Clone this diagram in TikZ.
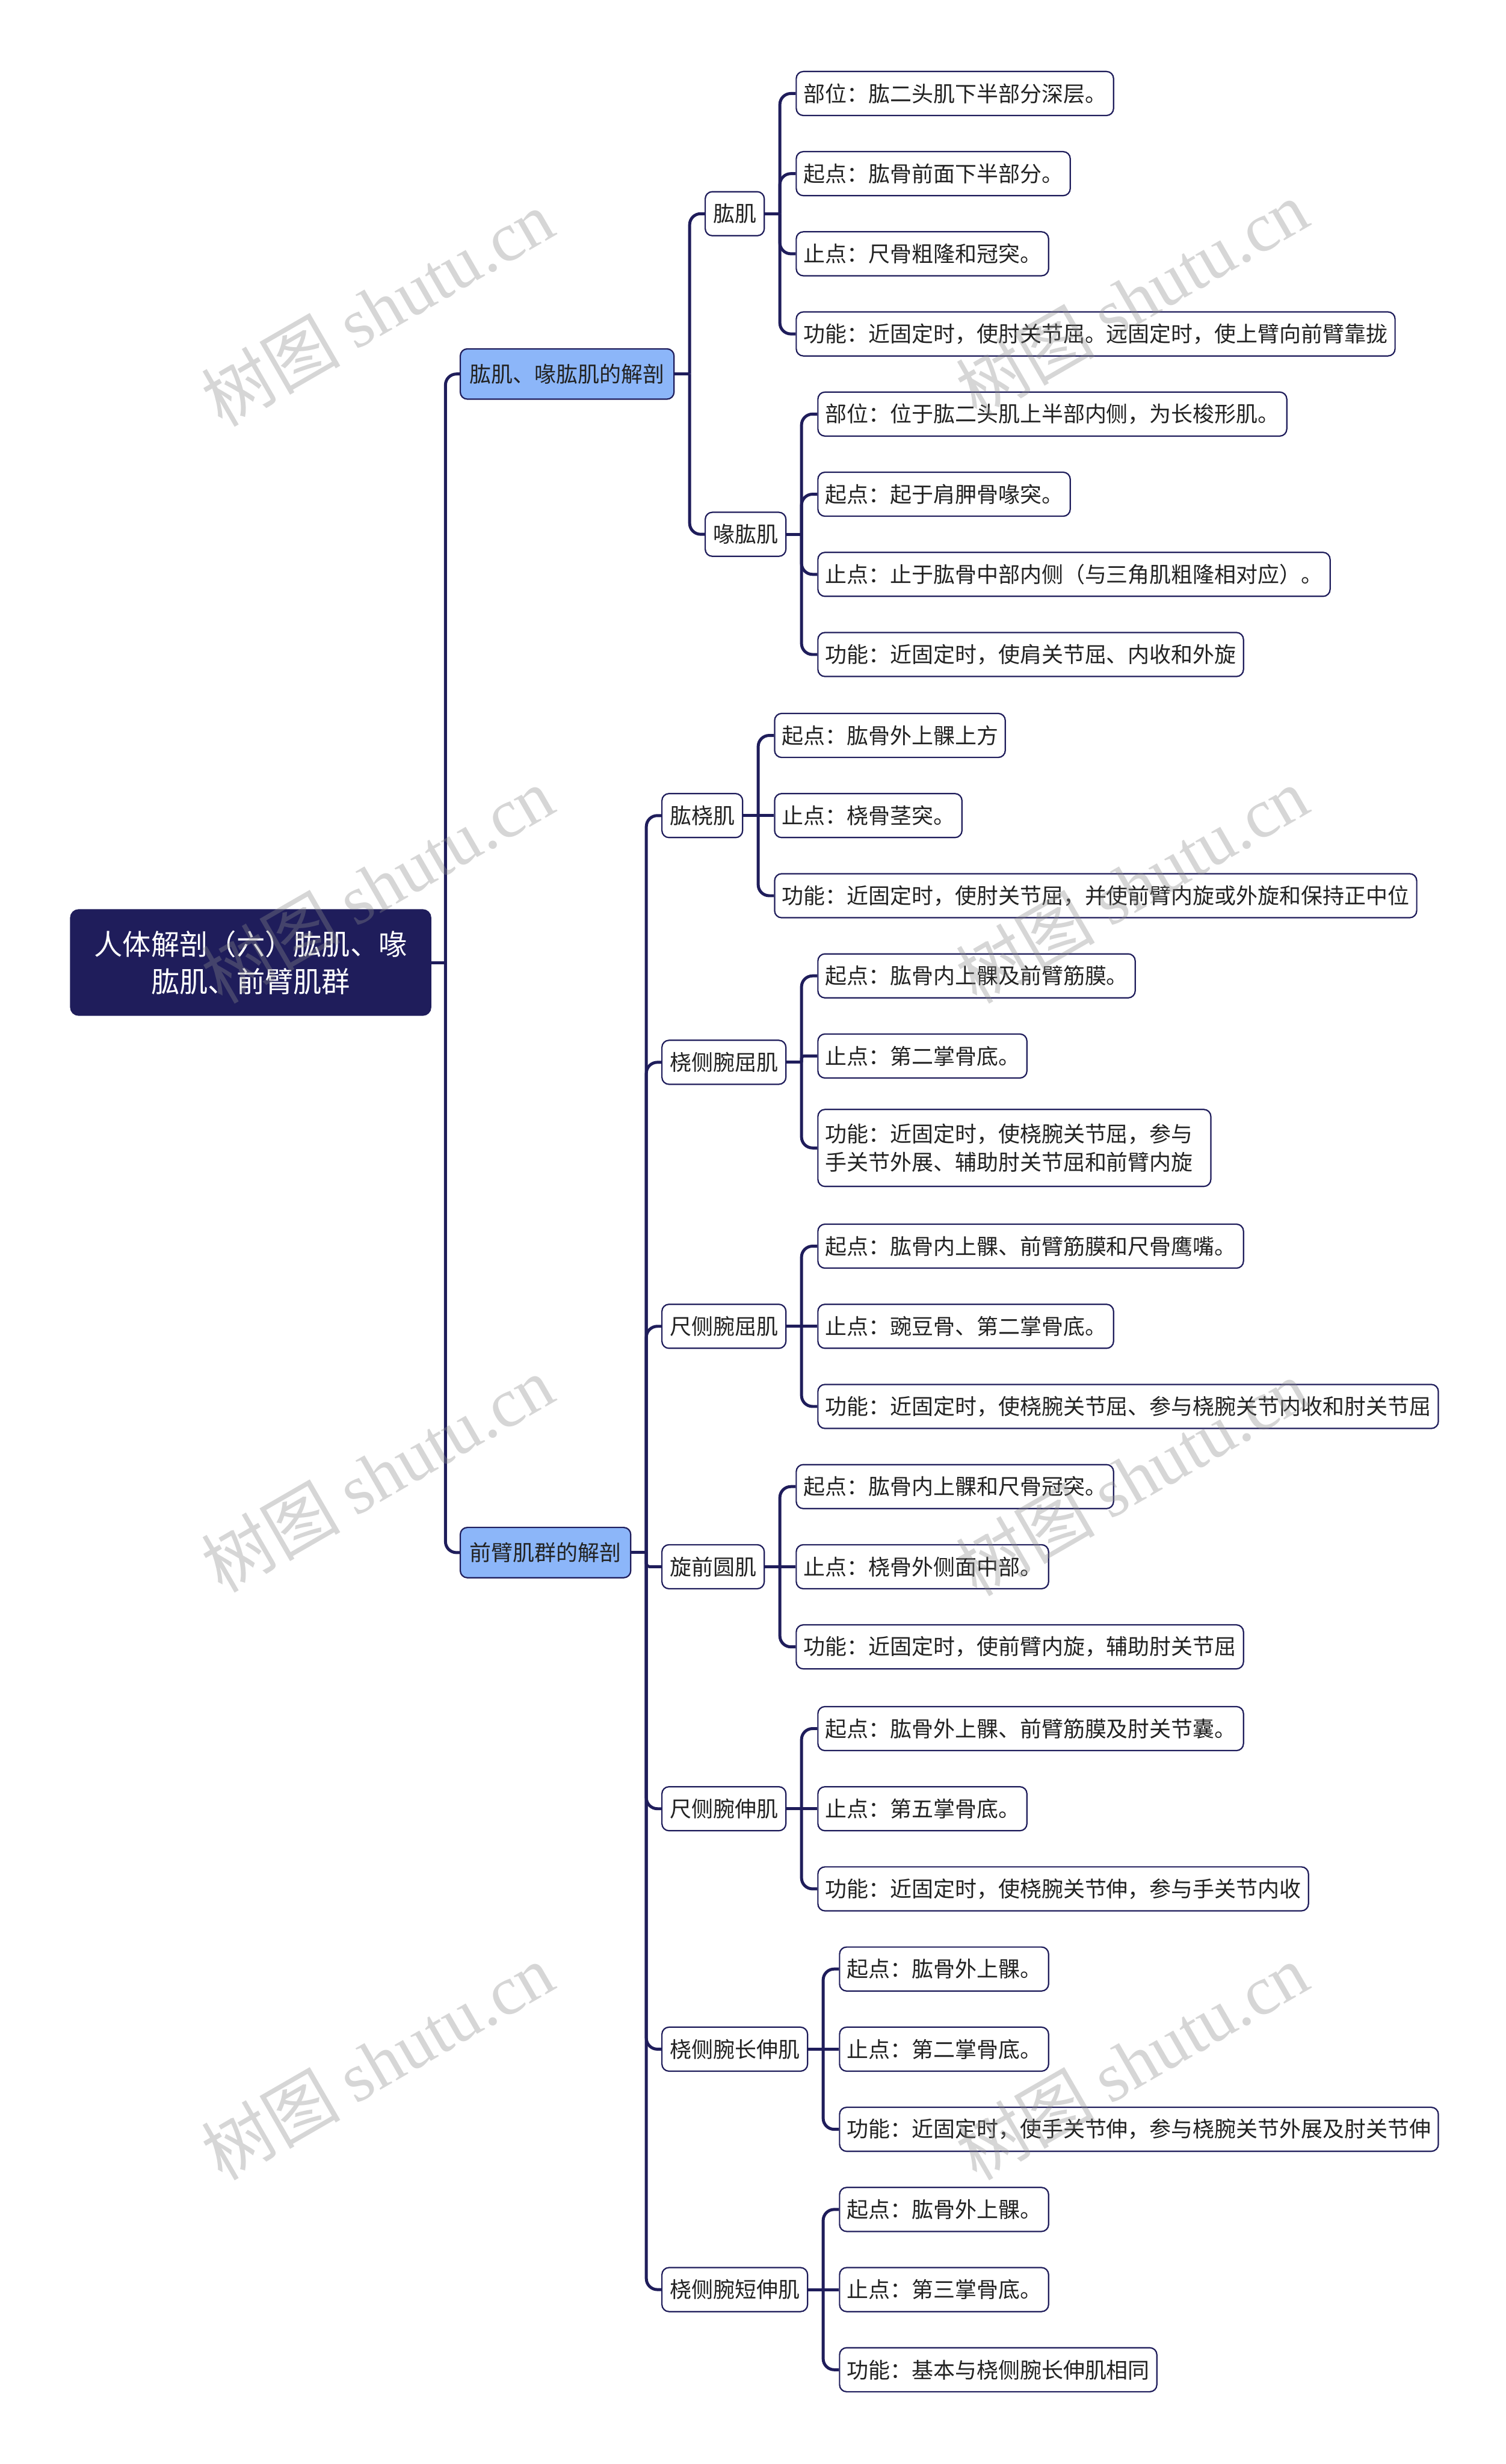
\documentclass[tikz,border=0pt]{standalone}
\usepackage{fontspec}
\setmainfont{Noto Sans CJK SC}
\newfontfamily\wmlatin{Liberation Serif}
\usetikzlibrary{calc}
\definecolor{navy}{HTML}{1F1D5B}
\definecolor{lblue}{HTML}{8CB6F9}
\definecolor{txt}{HTML}{222222}
\definecolor{wm}{HTML}{8A8A8A}
\begin{document}
\begin{tikzpicture}[x=1mm,y=-1mm,
  conn/.style={draw=navy, line width=1.9mm, rounded corners=7mm},
  base/.style={draw=navy, line width=0.85mm, rounded corners=4.5mm, text=txt, inner ysep=0pt, anchor=west, font=\fontsize{39.2pt}{51pt}\selectfont},
  leaf/.style={base, fill=white, minimum height=28mm, inner xsep=4.5mm},
  mid/.style={base, fill=white, minimum height=28mm, inner xsep=5mm},
  sec/.style={base, fill=lblue, minimum height=32mm, inner xsep=6mm},
  rootnode/.style={draw=navy, line width=0.85mm, fill=navy, text=white, rounded corners=5mm, minimum width=229mm, minimum height=67mm, align=center, inner sep=0pt, font=\fontsize{51.5pt}{68pt}\selectfont},
  wmark/.style={text=wm, text opacity=0.35, rotate=30, inner sep=0pt, font=\fontsize{126pt}{126pt}\selectfont}
]
\path[use as bounding box, fill=white] (0,0) rectangle (958,1568);

% root
\node[rootnode] (root) at (159.5,612.5) {人体解剖（六）肱肌、喙\\肱肌、前臂肌群};
\coordinate (t0) at ($(root.east)+(9,0)$);
\path (root.east) ++(18,-374.5) node[sec] (s1) {肱肌、喙肱肌的解剖};
\path (root.east) ++(18,375.5) node[sec] (s2) {前臂肌群的解剖};

% section 1
\coordinate (ts1) at ($(s1.east)+(9.5,0)$);
\path (s1.east) ++(19,-102) node[mid] (m1) {肱肌};
\path (s1.east) ++(19,102) node[mid] (m2) {喙肱肌};

\coordinate (t1) at ($(m1.east)+(9.5,0)$);
\path (m1.east) ++(19.5,-76.5) node[leaf] (l1a) {部位：肱二头肌下半部分深层。};
\path (m1.east) ++(19.5,-25.5) node[leaf] (l1b) {起点：肱骨前面下半部分。};
\path (m1.east) ++(19.5,25.5) node[leaf] (l1c) {止点：尺骨粗隆和冠突。};
\path (m1.east) ++(19.5,76.5) node[leaf] (l1d) {功能：近固定时，使肘关节屈。远固定时，使上臂向前臂靠拢};

\coordinate (t2) at ($(m2.east)+(9.5,0)$);
\path (m2.east) ++(19.5,-76.5) node[leaf] (l2a) {部位：位于肱二头肌上半部内侧，为长梭形肌。};
\path (m2.east) ++(19.5,-25.5) node[leaf] (l2b) {起点：起于肩胛骨喙突。};
\path (m2.east) ++(19.5,25.5) node[leaf] (l2c) {止点：止于肱骨中部内侧（与三角肌粗隆相对应）。};
\path (m2.east) ++(19.5,76.5) node[leaf] (l2d) {功能：近固定时，使肩关节屈、内收和外旋};

% section 2
\coordinate (ts2) at ($(s2.east)+(9.5,0)$);
\path (s2.east) ++(19,-469) node[mid] (m3) {肱桡肌};
\path (s2.east) ++(19,-312) node[mid] (m4) {桡侧腕屈肌};
\path (s2.east) ++(19,-144) node[mid] (m5) {尺侧腕屈肌};
\path (s2.east) ++(19,9) node[mid] (m6) {旋前圆肌};
\path (s2.east) ++(19,163) node[mid] (m7) {尺侧腕伸肌};
\path (s2.east) ++(19,316) node[mid] (m8) {桡侧腕长伸肌};
\path (s2.east) ++(19,469) node[mid] (m9) {桡侧腕短伸肌};

\coordinate (t3) at ($(m3.east)+(9.5,0)$);
\path (m3.east) ++(19.5,-51) node[leaf] (l3a) {起点：肱骨外上髁上方};
\path (m3.east) ++(19.5,0) node[leaf] (l3b) {止点：桡骨茎突。};
\path (m3.east) ++(19.5,51) node[leaf] (l3c) {功能：近固定时，使肘关节屈，并使前臂内旋或外旋和保持正中位};

\coordinate (t4) at ($(m4.east)+(9.5,0)$);
\path (m4.east) ++(19.5,-55) node[leaf] (l4a) {起点：肱骨内上髁及前臂筋膜。};
\path (m4.east) ++(19.5,-4) node[leaf] (l4b) {止点：第二掌骨底。};
\path (m4.east) ++(19.5,54.5) node[leaf, minimum height=49mm, text width=241mm, align=left, font=\fontsize{39.2pt}{51pt}\selectfont] (l4c) {功能：近固定时，使桡腕关节屈，参与\\手关节外展、辅助肘关节屈和前臂内旋};

\coordinate (t5) at ($(m5.east)+(9.5,0)$);
\path (m5.east) ++(19.5,-51) node[leaf] (l5a) {起点：肱骨内上髁、前臂筋膜和尺骨鹰嘴。};
\path (m5.east) ++(19.5,0) node[leaf] (l5b) {止点：豌豆骨、第二掌骨底。};
\path (m5.east) ++(19.5,51) node[leaf] (l5c) {功能：近固定时，使桡腕关节屈、参与桡腕关节内收和肘关节屈};

\coordinate (t6) at ($(m6.east)+(9.5,0)$);
\path (m6.east) ++(19.5,-51) node[leaf] (l6a) {起点：肱骨内上髁和尺骨冠突。};
\path (m6.east) ++(19.5,0) node[leaf] (l6b) {止点：桡骨外侧面中部。};
\path (m6.east) ++(19.5,51) node[leaf] (l6c) {功能：近固定时，使前臂内旋，辅助肘关节屈};

\coordinate (t7) at ($(m7.east)+(9.5,0)$);
\path (m7.east) ++(19.5,-51) node[leaf] (l7a) {起点：肱骨外上髁、前臂筋膜及肘关节囊。};
\path (m7.east) ++(19.5,0) node[leaf] (l7b) {止点：第五掌骨底。};
\path (m7.east) ++(19.5,51) node[leaf] (l7c) {功能：近固定时，使桡腕关节伸，参与手关节内收};

\coordinate (t8) at ($(m8.east)+(9.5,0)$);
\path (m8.east) ++(19.5,-51) node[leaf] (l8a) {起点：肱骨外上髁。};
\path (m8.east) ++(19.5,0) node[leaf] (l8b) {止点：第二掌骨底。};
\path (m8.east) ++(19.5,51) node[leaf] (l8c) {功能：近固定时，使手关节伸，参与桡腕关节外展及肘关节伸};

\coordinate (t9) at ($(m9.east)+(9.5,0)$);
\path (m9.east) ++(19.5,-51) node[leaf] (l9a) {起点：肱骨外上髁。};
\path (m9.east) ++(19.5,0) node[leaf] (l9b) {止点：第三掌骨底。};
\path (m9.east) ++(19.5,51) node[leaf] (l9c) {功能：基本与桡侧腕长伸肌相同};

% connectors
\draw[conn] (root.east) -- (t0);
\draw[conn] (t0) |- (s1.west);
\draw[conn] (t0) |- (s2.west);

\draw[conn] (s1.east) -- (ts1);
\draw[conn] (ts1) |- (m1.west);
\draw[conn] (ts1) |- (m2.west);

\draw[conn] (m1.east) -- (t1);
\foreach \c in {l1a,l1b,l1c,l1d} \draw[conn] (t1) |- (\c.west);
\draw[conn] (m2.east) -- (t2);
\foreach \c in {l2a,l2b,l2c,l2d} \draw[conn] (t2) |- (\c.west);

\draw[conn] (s2.east) -- (ts2);
\foreach \c in {m3,m4,m5,m7,m8,m9} \draw[conn] (ts2) |- (\c.west);
\draw[conn, rounded corners=2mm] (ts2) |- (m6.west);

\draw[conn] (m3.east) -- (l3b.west);
\draw[conn] (t3) |- (l3a.west); \draw[conn] (t3) |- (l3c.west);
\draw[conn] (m4.east) -- (t4);
\draw[conn] (t4) |- (l4a.west); \draw[conn] (t4) |- (l4c.west);
\draw[conn, rounded corners=1.5mm] (t4) |- (l4b.west);
\draw[conn] (m5.east) -- (l5b.west);
\draw[conn] (t5) |- (l5a.west); \draw[conn] (t5) |- (l5c.west);
\draw[conn] (m6.east) -- (l6b.west);
\draw[conn] (t6) |- (l6a.west); \draw[conn] (t6) |- (l6c.west);
\draw[conn] (m7.east) -- (l7b.west);
\draw[conn] (t7) |- (l7a.west); \draw[conn] (t7) |- (l7c.west);
\draw[conn] (m8.east) -- (l8b.west);
\draw[conn] (t8) |- (l8a.west); \draw[conn] (t8) |- (l8c.west);
\draw[conn] (m9.east) -- (l9b.west);
\draw[conn] (t9) |- (l9a.west); \draw[conn] (t9) |- (l9c.west);

% watermarks
\foreach \wx/\wy [count=\i] in {240/196, 720/190, 240/563, 720/563, 240/938, 720/940, 240/1312, 720/1312}
  \node[wmark] (wm\i) at (\wx,\wy) {树图 {\wmlatin shutu.cn}};
\end{tikzpicture}
\end{document}
